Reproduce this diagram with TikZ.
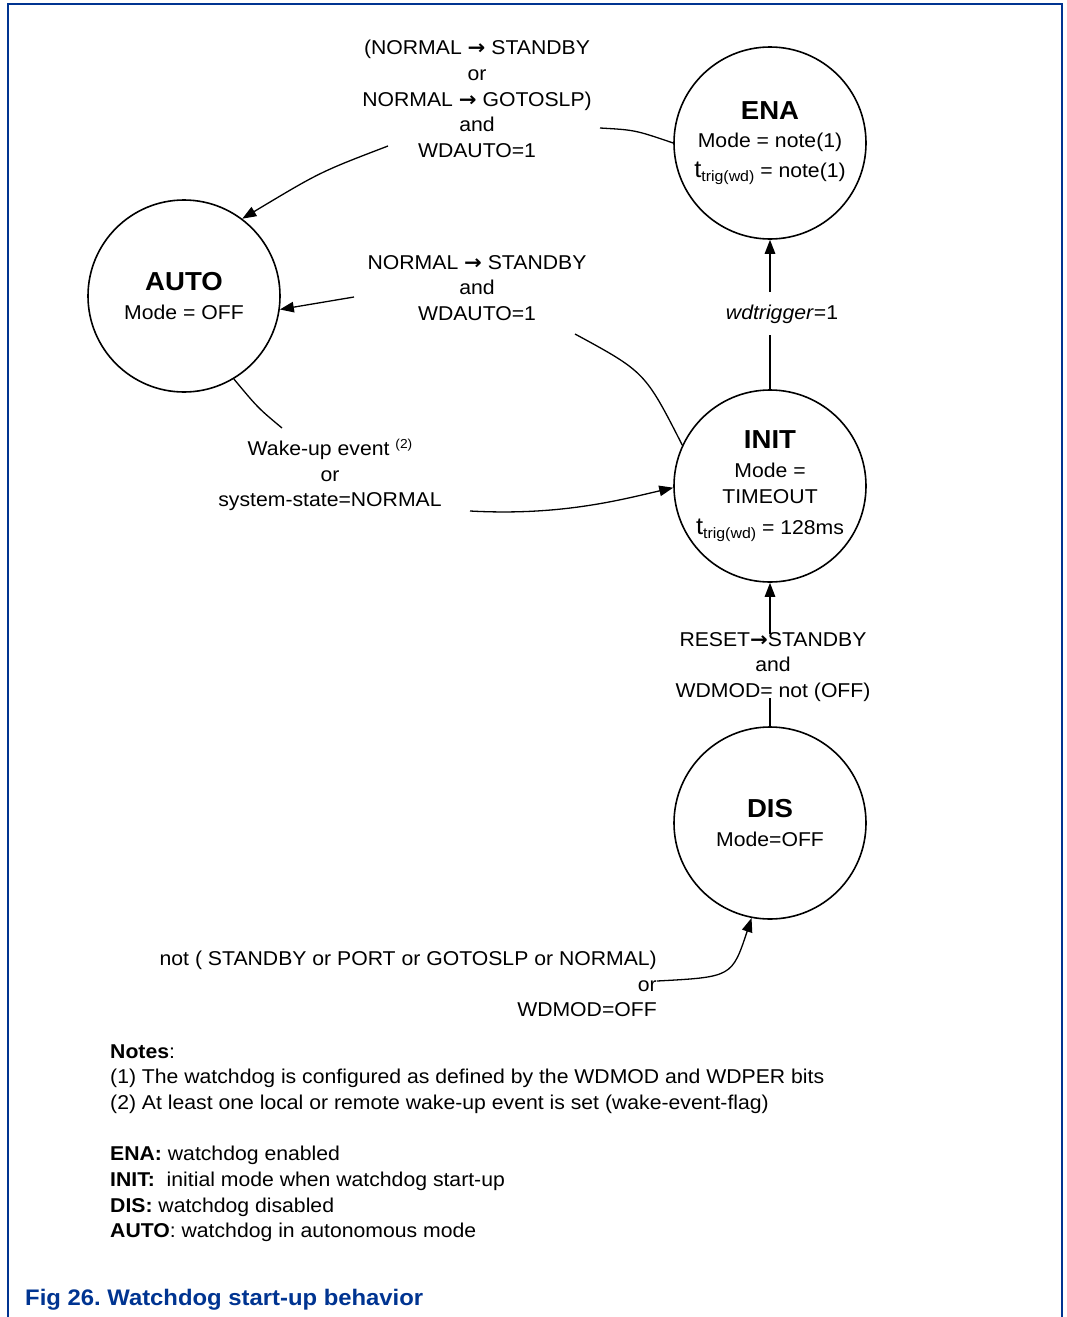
\documentclass[tikz,border=0pt]{standalone}
\usepackage{fontspec}
\setmainfont{Liberation Sans}[FakeStretch=1.06]
\newfontfamily\symfont{DejaVu Sans}[FakeStretch=1.06]
\usetikzlibrary{arrows.meta}
\definecolor{nxpblue}{RGB}{0,52,145}
\newcommand{\rarr}{{\symfont\bfseries →}}
\newcommand{\ttrig}{{\fontsize{24}{24}\selectfont t}\raisebox{-4pt}{\fontsize{15}{15}\selectfont trig(wd)}}
\newcommand{\stitle}[1]{{\fontsize{26}{30}\selectfont\bfseries #1}}
\begin{document}
\frenchspacing
\begin{tikzpicture}[x=1pt,y=-1pt,
  state/.style={circle, draw, line width=1.6pt, minimum size=192pt, inner sep=0pt, align=center, font=\fontsize{20}{29.5}\selectfont},
  lbl/.style={align=center, inner sep=0pt, font=\fontsize{20}{25.7}\selectfont},
  conn/.style={line width=1.3pt},
  arr/.style={conn, -{Triangle[length=14pt,width=10.5pt]}}]
\useasboundingbox (0,0) rectangle (1066,1317);
\draw[nxpblue, line width=1.2pt] (8,1317) -- (8,4) -- (1062,4) -- (1062,1317);

\node[state] (ena) at (770,143) {\stitle{ENA}\\[-1pt]Mode = note(1)\\\ttrig{} = note(1)};
\node[state] (auto) at (184,296) {\stitle{AUTO}\\Mode = OFF};
\node[state] (init) at (770,486) {\stitle{INIT}\\Mode =\\[-3.5pt]TIMEOUT\\[1pt]\ttrig{} = 128ms};
\node[state] (dis) at (770,823) {\stitle{DIS}\\Mode=OFF};

\node[lbl] (l1) at (477,99) {(NORMAL \rarr{} STANDBY\\or\\NORMAL \rarr{} GOTOSLP)\\and\\WDAUTO=1};
\node[lbl] (l2) at (477,288) {NORMAL \rarr{} STANDBY\\and\\WDAUTO=1};
\node[lbl] (l3) at (330,475) {Wake-up event \raisebox{7pt}{\fontsize{13}{13}\selectfont (2)}\\or\\system-state=NORMAL};
\node[lbl] (l4) at (782,314) {\textit{wdtrigger}=1};
\node[lbl] (l5) at (773,667) {RESET\rarr{}STANDBY\\and\\WDMOD= not (OFF)};
\node[lbl, align=right, anchor=east] (l6) at (657,984) {not ( STANDBY or PORT or GOTOSLP or NORMAL)\\or\\WDMOD=OFF};

\node[lbl, align=left, anchor=west] (notes) at (110,1079) {\textbf{Notes}:\\(1) The watchdog is configured as defined by the WDMOD and WDPER bits\\(2) At least one local or remote wake-up event is set (wake-event-flag)};
\node[lbl, align=left, anchor=west] (legend) at (110,1194) {\textbf{ENA:} watchdog enabled\\\textbf{INIT:}\ \ initial mode when watchdog start-up\\\textbf{DIS:} watchdog disabled\\\textbf{AUTO}: watchdog in autonomous mode};
\node[anchor=west, inner sep=0pt, text=nxpblue, font=\fontsize{22.5}{26}\selectfont\bfseries] (cap) at (25,1300) {Fig 26. Watchdog start-up behavior};

\coordinate (c1a) at (600,128);
\coordinate (c1b) at (388,146);
\coordinate (c2a) at (575,334);
\coordinate (c2b) at (354,297);
\coordinate (c3a) at (282,428);
\coordinate (c3b) at (470,511);
\coordinate (c4a) at (770,335);
\coordinate (c4b) at (770,292);
\coordinate (c5a) at (770,698);
\coordinate (c5b) at (770,634);
\coordinate (c6) at (657,981);

\draw[conn] (ena.180) .. controls (635,130) .. (c1a);
\draw[arr] (c1b) .. controls (320,172) .. (auto.53);
\draw[conn] (init.155) .. controls (645,372) .. (c2a);
\draw[arr] (c2b) -- (auto.352);
\draw[conn] (auto.301) .. controls (258,408) .. (c3a);
\draw[arr] (c3b) .. controls (560,516) and (620,500) .. (init.181);
\draw[conn] (init.north) -- (c4a);
\draw[arr] (c4b) -- (ena.south);
\draw[conn] (dis.north) -- (c5a);
\draw[arr] (c5b) -- (init.south);
\draw[arr] (c6) .. controls (732,977) .. (dis.259);
\end{tikzpicture}
\end{document}
